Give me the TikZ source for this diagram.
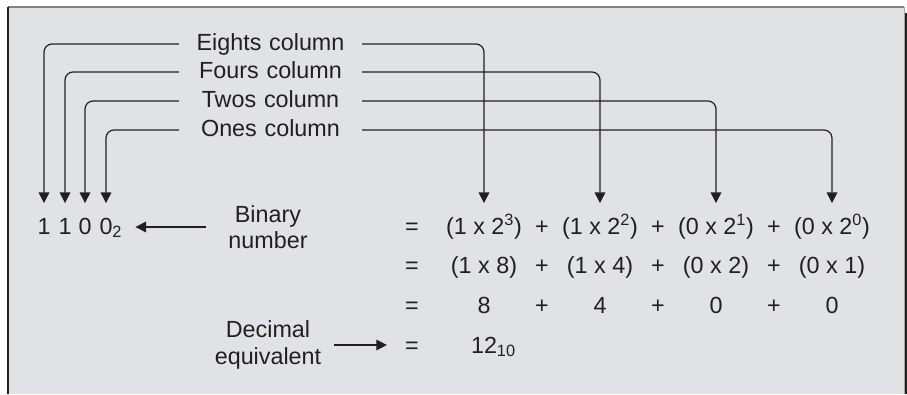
\documentclass[tikz,border=0pt]{standalone}
\usepackage{fontspec}
\setmainfont{Liberation Sans}
\usetikzlibrary{arrows.meta}
\definecolor{ink}{HTML}{231F20}
\definecolor{panel}{HTML}{E1E2E6}
\begin{document}
\begin{tikzpicture}[x=.75pt,y=-.75pt,font=\fontsize{17.5}{21}\selectfont,
  txt/.style={inner sep=0,text height=12.5pt,text depth=3.5pt,text=ink},
  col/.style={txt,text width=137pt,align=center},
  two/.style={inner sep=0,text=ink,align=center,font=\fontsize{17.5}{20}\selectfont},
  conn/.style={draw=ink,line width=.9pt,rounded corners=6pt,-{Triangle[length=8pt,width=8pt]}}]
\useasboundingbox (0,0) rectangle (907,394);
% panel
\fill[panel] (8,7) rectangle (904,394);
\draw[gray,line width=1.2pt] (8,7)--(904,7);
\draw[ink,line width=1.2pt] (8,7)--(8,394);
\draw[gray!70,line width=.6pt] (904,7)--(904,394);
\fill[ink] (905,13) rectangle (907,394);
% column labels
\node[col] (eights) at (270.5,44) {Eights column};
\node[col] (fours) at (270.5,72) {Fours column};
\node[col] (twos) at (270.5,101) {Twos column};
\node[col] (ones) at (270.5,130) {Ones column};
% binary number
\foreach \n/\x/\b in {3/44/1,2/65/1,1/85/0}{\node[txt] (d\n) at (\x,228) {\b};}
\node[txt] (d0) at (106,228) {0\rlap{\textsubscript{2}}};
\node[two] (binary) at (268,227) {Binary\\number};
\node[two] (decimal) at (268,345) {Decimal\\equivalent};
% equals column
\foreach \r/\y in {1/228,2/267,3/307,4/347}{\node[txt] (eq\r) at (412,\y) {=};}
% terms
\foreach \n/\x/\b/\w in {3/484/1/8,2/600/1/4,1/716/0/2,0/832/0/1}{
  \node[txt] (t\n) at (\x,228) {(\b{} x 2\textsuperscript{\n})};
  \node[txt] (m\n) at (\x,267) {(\b{} x \w)};
}
\foreach \n/\x/\v in {3/484/8,2/600/4,1/716/0,0/832/0}{\node[txt] (v\n) at (\x,307) {\v};}
\foreach \x in {542,658,774}{
  \node[txt] (pa\x) at (\x,228) {+};
  \node[txt] (pb\x) at (\x,267) {+};
  \node[txt] (pc\x) at (\x,307) {+};
}
\node[txt] (total) at (484,347) {12\rlap{\textsubscript{10}}};
% connectors
\foreach \c/\n in {eights/3,fours/2,twos/1,ones/0}{
  \draw[conn,shorten >=10.5pt] (\c.west) -| (d\n);
  \draw[conn,shorten >=10.5pt] (\c.east) -| (t\n);
}
\draw[conn,shorten <=17pt,shorten >=17pt] (binary.west) -- (binary.west -| d0.east);
\draw[conn,shorten <=9.5pt,shorten >=13.5pt] (decimal.east) -- (decimal.east -| eq4.west);
\end{tikzpicture}
\end{document}
